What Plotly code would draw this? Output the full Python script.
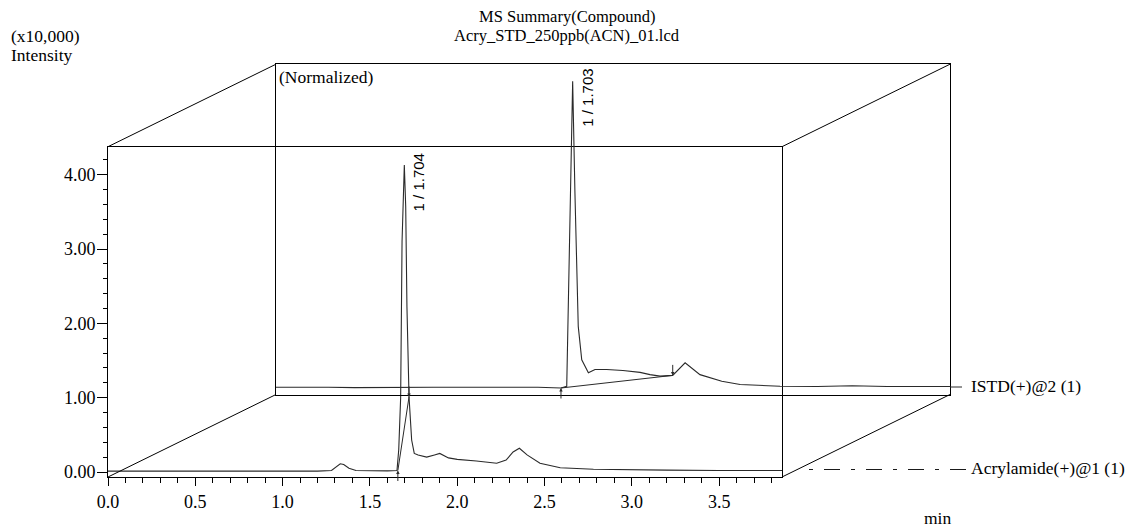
import plotly.graph_objects as go

# ---------------- data ----------------
acry_t = [0.00, 0.20, 0.40, 0.60, 0.80, 1.00, 1.20, 1.28, 1.31, 1.33, 1.35, 1.38, 1.42, 1.50,
          1.60, 1.655, 1.665, 1.676, 1.684, 1.697, 1.705, 1.712, 1.724, 1.739, 1.754, 1.776,
          1.825, 1.87, 1.90, 1.95, 2.00, 2.11, 2.226, 2.28, 2.32, 2.356, 2.40, 2.474, 2.59,
          2.78, 3.00, 3.20, 3.50, 3.86]
acry_i = [0.012, 0.012, 0.008, 0.012, 0.008, 0.012, 0.012, 0.02, 0.07, 0.11, 0.10, 0.05, 0.02,
          0.015, 0.015, 0.02, 0.30, 1.00, 3.10, 4.13, 3.57, 2.23, 1.01, 0.43, 0.25, 0.23,
          0.20, 0.23, 0.25, 0.19, 0.17, 0.148, 0.117, 0.16, 0.27, 0.32, 0.23, 0.117, 0.058,
          0.036, 0.027, 0.025, 0.02, 0.02]

istd_t = [0.00, 0.15, 0.30, 0.45, 0.60, 0.75, 0.90, 1.05, 1.20, 1.35, 1.50, 1.632, 1.665,
          1.680, 1.699, 1.712, 1.731, 1.751, 1.789, 1.827, 1.894, 1.987, 2.085, 2.142, 2.199,
          2.272, 2.343, 2.428, 2.486, 2.553, 2.658, 2.887, 3.10, 3.30, 3.50, 3.70, 3.86]
istd_i = [0.03, 0.035, 0.03, 0.025, 0.03, 0.035, 0.03, 0.03, 0.035, 0.03, 0.03, 0.02, 0.044,
          1.75, 4.15, 2.65, 0.85, 0.40, 0.225, 0.27, 0.27, 0.256, 0.23, 0.20, 0.18,
          0.19, 0.36, 0.20, 0.16, 0.11, 0.067, 0.044, 0.04, 0.05, 0.04, 0.045, 0.04]

# peak info: apex time / intensity, integration start / end
acry_peak = (1.697, 4.13)
acry_start = (1.660, 0.02)
acry_end = (1.724, 1.01)
acry_label = "1 / 1.704"

istd_peak = (1.699, 4.15)
istd_start = (1.632, 0.02)
istd_end = (2.272, 0.19)
istd_label = "1 / 1.703"

series_names = ["Acrylamide(+)@1 (1)", "ISTD(+)@2 (1)"]
y_ticks = [0, 1, 2, 3, 4]

title1 = "MS Summary(Compound)"
title2 = "Acry_STD_250ppb(ACN)_01.lcd"

# ---------------- layout geometry (pixels) ----------------
W, H = 1132, 530
FX0, FX1, FYB, FYT = 108, 782, 477, 146.7      # front box
DX, DY = 168, 82.5                              # depth offset of the back plane
BX0, BX1, BYB, BYT = FX0 + DX, FX1 + DX, FYB - DY, FYT - DY

def px(x):
    return x / W

def py(y):
    return 1 - y / H

XR = [0, 3.86]
YR = [-0.0673, 4.378]

SERIF = "Liberation Serif, Times New Roman, serif"
SANS = "Liberation Sans, Arial, sans-serif"
LC = "#2a2a2a"
FS = 17.5

fig = go.Figure()

# back trace (ISTD)
fig.add_trace(go.Scatter(x=istd_t, y=istd_i, mode="lines", xaxis="x2", yaxis="y2",
                         line=dict(color=LC, width=1.1), showlegend=False, hoverinfo="skip"))
fig.add_trace(go.Scatter(x=[istd_start[0], istd_end[0]], y=[istd_start[1], istd_end[1]],
                         mode="lines", xaxis="x2", yaxis="y2",
                         line=dict(color=LC, width=1), showlegend=False, hoverinfo="skip"))
# front trace (Acrylamide)
fig.add_trace(go.Scatter(x=acry_t, y=acry_i, mode="lines", xaxis="x", yaxis="y",
                         line=dict(color=LC, width=1.1), showlegend=False, hoverinfo="skip"))
fig.add_trace(go.Scatter(x=[acry_start[0], acry_end[0]], y=[acry_start[1], acry_end[1]],
                         mode="lines", xaxis="x", yaxis="y",
                         line=dict(color=LC, width=1), showlegend=False, hoverinfo="skip"))

fig.update_layout(
    width=W, height=H,
    margin=dict(l=0, r=0, t=0, b=0, autoexpand=False),
    paper_bgcolor="white", plot_bgcolor="rgba(0,0,0,0)",
    xaxis=dict(domain=[px(FX0), px(FX1)], anchor="y", range=XR, showgrid=False,
               zeroline=False, showline=True, mirror=True, linecolor="black", linewidth=1,
               automargin=False,
               ticks="outside", ticklen=8, tickcolor="black", dtick=0.5, tick0=0,
               tickformat=".1f", tickfont=dict(family=SERIF, size=18, color="black"),
               minor=dict(ticks="outside", ticklen=5, dtick=0.1, tickcolor="black")),
    yaxis=dict(domain=[py(FYB), py(FYT)], anchor="x", range=YR, showgrid=False,
               zeroline=False, showline=True, mirror=True, linecolor="black", linewidth=1,
               automargin=False, ticklabelstandoff=-2,
               ticks="outside", ticklen=10, tickcolor="black", tickvals=y_ticks,
               tickformat=".2f", tickfont=dict(family=SERIF, size=18, color="black"),
               minor=dict(ticks="outside", ticklen=4, dtick=0.2, tick0=0, tickcolor="black")),
    xaxis2=dict(domain=[px(BX0), px(BX1)], anchor="y2", range=XR, showgrid=False,
                zeroline=False, showline=True, mirror=True, linecolor="black", linewidth=1,
                automargin=False, ticks="", showticklabels=False),
    yaxis2=dict(domain=[py(BYB), py(BYT)], anchor="x2", range=YR, showgrid=False,
                zeroline=False, showline=True, mirror=True, linecolor="black", linewidth=1,
                automargin=False, ticks="", showticklabels=False),
)

# depth diagonals
shapes = []
for (x0, y0) in [(FX0, FYT), (FX0, FYB), (FX1, FYT), (FX1, FYB)]:
    shapes.append(dict(type="line", xref="paper", yref="paper",
                       x0=px(x0), y0=py(y0), x1=px(x0 + DX), y1=py(y0 - DY),
                       line=dict(color="black", width=1)))
# series leader lines
shapes.append(dict(type="line", xref="paper", yref="paper",
                   x0=px(809), y0=py(469.5), x1=px(968), y1=py(469.5),
                   line=dict(color="#1a1a1a", width=1.2, dash="4px,11px,16px,11px")))
shapes.append(dict(type="line", xref="paper", yref="paper",
                   x0=px(BX1), y0=py(387), x1=px(962), y1=py(387),
                   line=dict(color=LC, width=1)))
fig.update_layout(shapes=shapes)

def txt(s, x, y, anchor="left", size=FS):
    return dict(text=s, x=px(x), y=py(y), xref="paper", yref="paper",
                showarrow=False, xanchor=anchor, yanchor="middle",
                font=dict(family=SERIF, size=size, color="black"))

ann = [
    txt(title1, 567, 17, "center", 16.5),
    txt(title2, 567, 36, "center", 16.5),
    txt("(x10,000)", 9, 36),
    txt("Intensity", 9, 55),
    txt("(Normalized)", 277, 77),
    txt("min", 937, 518, "center"),
    txt(series_names[1], 969, 386),
    txt(series_names[0], 969, 468),
]

# peak labels
ann.append(dict(text=acry_label, x=acry_peak[0], y=acry_peak[1], xref="x", yref="y",
                showarrow=False, textangle=-90, xanchor="center", yanchor="middle",
                xshift=14, yshift=-17, font=dict(family=SANS, size=15, color="black")))
ann.append(dict(text=istd_label, x=istd_peak[0], y=istd_peak[1], xref="x2", yref="y2",
                showarrow=False, textangle=-90, xanchor="center", yanchor="middle",
                xshift=14, yshift=-17, font=dict(family=SANS, size=15, color="black")))

# integration markers
for (pt, xr, yr, up) in [(acry_start, "x", "y", True), (acry_end, "x", "y", False),
                         (istd_start, "x2", "y2", True), (istd_end, "x2", "y2", False)]:
    ann.append(dict(text="", x=pt[0], y=pt[1], xref=xr, yref=yr, showarrow=True,
                    ax=0, ay=12 if up else -12, arrowhead=2, arrowsize=0.7,
                    arrowwidth=1, arrowcolor=LC, standoff=0))

fig.update_layout(annotations=ann)

fig.write_html("out.html")
